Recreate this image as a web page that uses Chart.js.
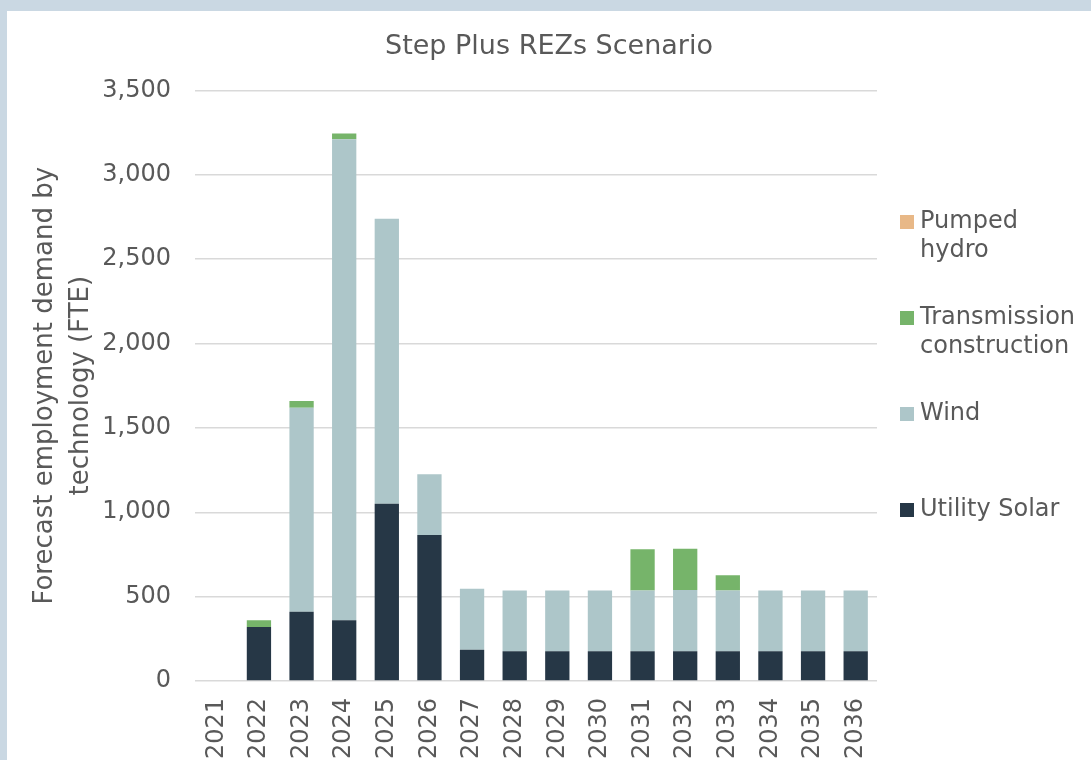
<!DOCTYPE html>
<html>
<head>
<meta charset="utf-8">
<script src="https://cdn.jsdelivr.net/npm/chart.js@4"></script>
<style>
  html, body { margin: 0; padding: 0; background: #cad8e3; }
  #wrap { position: absolute; left: 7px; top: 11px; width: 1084px; height: 749px; background: #ffffff; }
</style>
</head>
<body>
<div id="wrap"><canvas id="stepChart" width="1084" height="749"></canvas></div>
<script>
// years along the x axis
const years = ['2021', '2022', '2023', '2024', '2025', '2026', '2027', '2028',
               '2029', '2030', '2031', '2032', '2033', '2034', '2035', '2036'];

// FTE by technology
const utilitySolar = [0, 320, 410, 360, 1050, 865, 185, 177, 177, 177, 177, 177, 177, 177, 177, 177];
const wind         = [0, 0, 1210, 2850, 1690, 360, 362, 360, 360, 360, 360, 362, 360, 360, 360, 360];
const transmission = [0, 40, 40, 35, 0, 0, 0, 0, 0, 0, 244, 244, 89, 0, 0, 0];
const pumpedHydro  = [0, 0, 0, 0, 0, 0, 0, 0, 0, 0, 0, 0, 0, 0, 0, 0];

const yTicks = [0, 500, 1000, 1500, 2000, 2500, 3000, 3500];

const textColor = '#595959';
const fontFamily = '"DejaVu Sans", Verdana, sans-serif';

// legend on the right, drawn by hand so wrapped labels line up like the original
const sideLegend = {
    id: 'sideLegend',
    afterDraw(chart) {
        const ctx = chart.ctx;
        const items = [
            { text: ['Pumped', 'hydro'], ds: 3 },
            { text: ['Transmission', 'construction'], ds: 2 },
            { text: ['Wind'], ds: 1 },
            { text: ['Utility Solar'], ds: 0 }
        ];
        const x = chart.chartArea.right + 23;
        let y = 211;
        ctx.save();
        ctx.font = '24px ' + fontFamily;
        ctx.textBaseline = 'middle';
        ctx.textAlign = 'left';
        items.forEach(item => {
            ctx.fillStyle = chart.data.datasets[item.ds].backgroundColor;
            ctx.fillRect(x, y - 7, 14, 14);
            ctx.fillStyle = textColor;
            item.text.forEach((line, i) => {
                ctx.fillText(line, x + 20, y + i * 29);
            });
            y += 96;
        });
        ctx.restore();
    }
};

let ctx = document.getElementById('stepChart').getContext('2d');

let stepChart = new Chart(ctx, {
    type: 'bar',
    data: {
        labels: years,
        datasets: [
            { label: 'Utility Solar', data: utilitySolar, backgroundColor: '#263746' },
            { label: 'Wind', data: wind, backgroundColor: '#adc6c9' },
            { label: 'Transmission construction', data: transmission, backgroundColor: '#76b46a' },
            { label: 'Pumped hydro', data: pumpedHydro, backgroundColor: '#e8b887' }
        ]
    },
    options: {
        responsive: false,
        animation: false,
        datasets: {
            bar: { barPercentage: 0.57, categoryPercentage: 1.0 }
        },
        layout: { padding: 0 },
        plugins: {
            legend: { display: false },
            tooltip: { enabled: false },
            title: {
                display: true,
                text: 'Step Plus REZs Scenario',
                color: textColor,
                font: { family: fontFamily, size: 27, weight: 'normal' },
                padding: { top: 20, bottom: 27 }
            }
        },
        scales: {
            x: {
                stacked: true,
                grid: { display: false, drawTicks: false },
                border: { display: false },
                ticks: {
                    color: textColor,
                    font: { family: fontFamily, size: 24 },
                    maxRotation: 90,
                    minRotation: 90,
                    padding: 17,
                    autoSkip: false
                },
                afterFit: s => { s.height = 79; }
            },
            y: {
                stacked: true,
                min: 0,
                max: 3500,
                grid: { color: '#d9d9d9', lineWidth: 1.5, drawTicks: false },
                border: { display: false },
                afterBuildTicks: s => { s.ticks = yTicks.map(v => ({ value: v })); },
                ticks: {
                    color: textColor,
                    font: { family: fontFamily, size: 24 },
                    padding: 24,
                    callback: v => v.toLocaleString('en-US')
                },
                title: {
                    display: true,
                    text: ['Forecast employment demand by', 'technology (FTE)'],
                    color: textColor,
                    font: { family: fontFamily, size: 26, lineHeight: 1.38 },
                    padding: { top: 20, bottom: 0 }
                },
                afterFit: s => { s.width = 188; }
            },
            // empty axis that keeps room for the legend on the right
            side: {
                position: 'right',
                display: true,
                grid: { display: false, drawTicks: false },
                border: { display: false },
                ticks: { display: false },
                afterFit: s => { s.width = 214; }
            }
        }
    },
    plugins: [sideLegend]
});
</script>
</body>
</html>
